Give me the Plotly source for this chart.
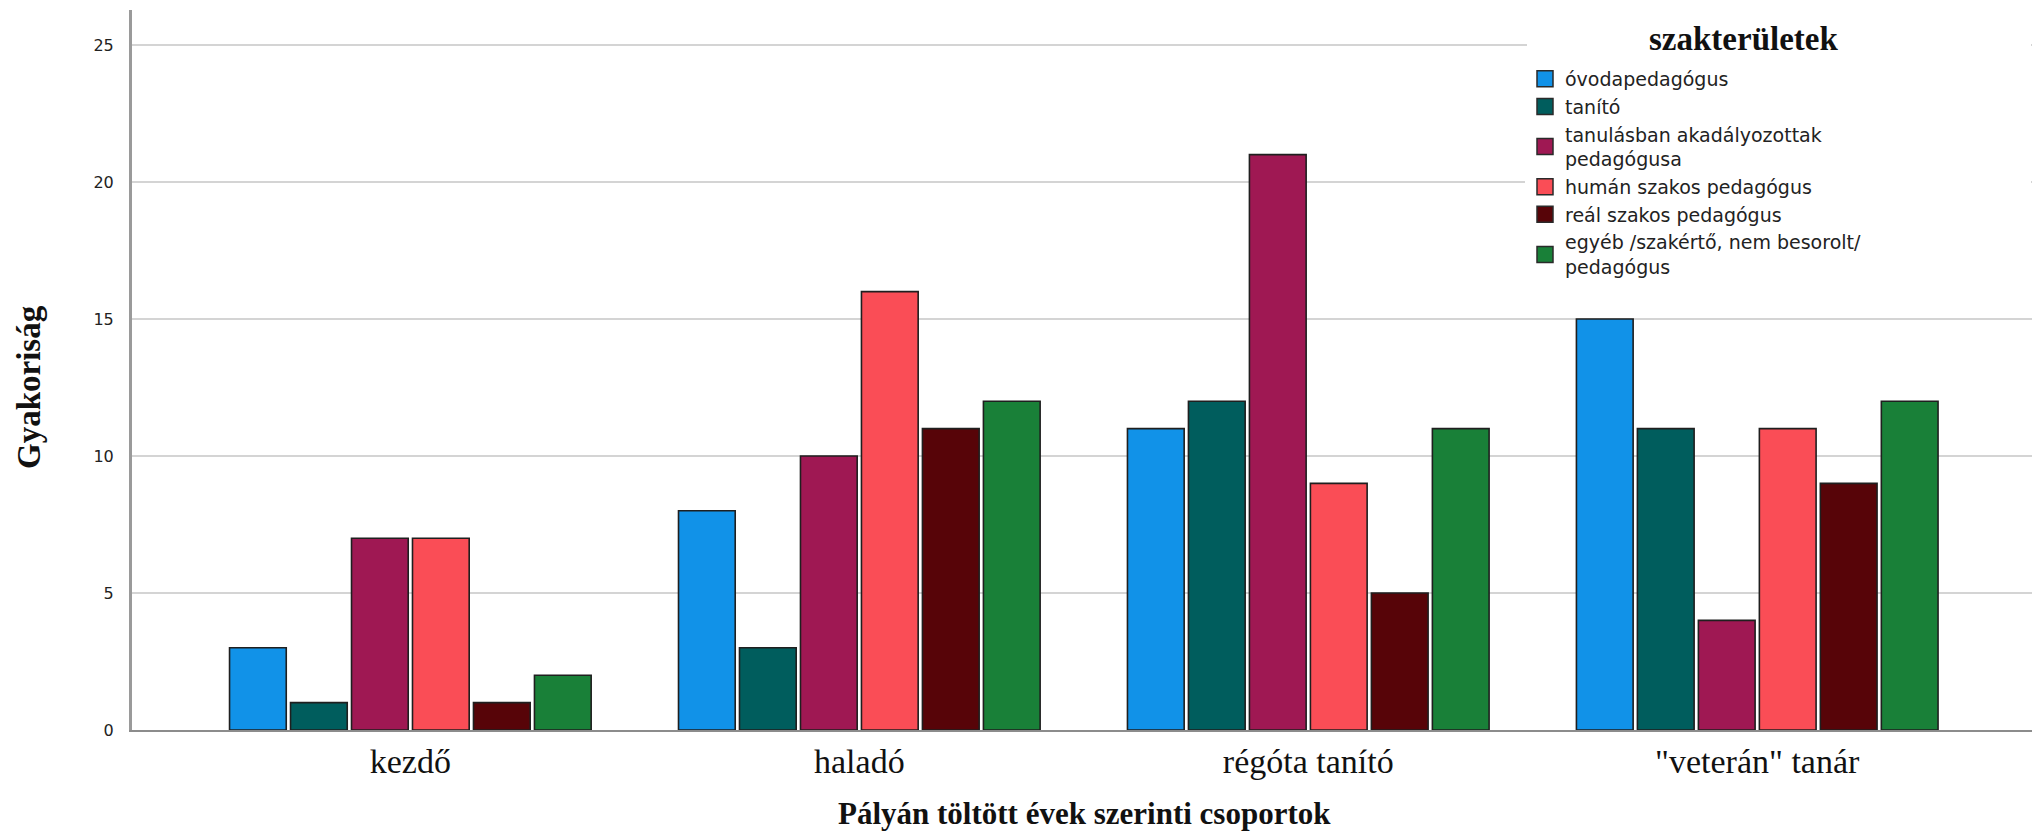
import plotly.graph_objects as go

categories = ["kezdő", "haladó", "régóta tanító", "\"veterán\" tanár"]
series_names = [
    "óvodapedagógus",
    "tanító",
    "tanulásban akadályozottak<br>pedagógusa",
    "humán szakos pedagógus",
    "reál szakos pedagógus",
    "egyéb /szakértő, nem besorolt/<br>pedagógus",
]
ovoda = [3, 8, 11, 15]
tanito = [1, 3, 12, 11]
tanulasban = [7, 10, 21, 4]
human = [7, 16, 9, 11]
real = [1, 11, 5, 9]
egyeb = [2, 12, 11, 12]
series_values = [ovoda, tanito, tanulasban, human, real, egyeb]
colors = ["#1192e8", "#005d5d", "#9f1853", "#fa4d56", "#570408", "#198038"]
y_ticks = [0, 5, 10, 15, 20, 25]

fig = go.Figure()
for i, (name, vals, col) in enumerate(zip(series_names, series_values, colors)):
    fig.add_trace(go.Bar(
        x=categories, y=vals, name=name, legendgroup=str(i), showlegend=False,
        marker=dict(color=col, line=dict(color="#1f1f1f", width=1.6)),
    ))
# legend entries with larger square swatches
for i, (name, col) in enumerate(zip(series_names, colors)):
    fig.add_trace(go.Scatter(
        x=[None], y=[None], mode="markers", name=name, legendgroup=str(i),
        marker=dict(symbol="square", size=16, color=col, line=dict(color="#2a2a2a", width=1.5)),
        hoverinfo="skip",
    ))

W, H = 2036, 832
L, R, T, B = 132, 4, 10, 102
PW, PH = W - L - R, H - T - B


def px_x(x):
    return (x - L) / PW


def px_y(y):
    return ((H - B) - y) / PH


fig.update_layout(
    width=W, height=H,
    margin=dict(l=L, r=R, t=T, b=B),
    paper_bgcolor="white", plot_bgcolor="white",
    barmode="group", bargap=0.185, bargroupgap=0.07,
    showlegend=True,
    legend=dict(
        x=px_x(1525), y=px_y(60), xanchor="left", yanchor="top",
        bgcolor="white", borderwidth=0,
        font=dict(family="DejaVu Sans, Liberation Sans, sans-serif", size=19, color="#222"),
        tracegroupgap=0, itemwidth=30,
    ),
    shapes=[
        dict(type="rect", xref="paper", yref="paper", layer="above",
             x0=px_x(1527), x1=px_x(2031), y0=px_y(12), y1=px_y(280),
             fillcolor="white", line=dict(width=0)),
    ],
    xaxis=dict(
        range=[-0.620, 3.612],
        showgrid=False, showline=True, linecolor="#8c8c8c", linewidth=2,
        ticks="", ticklabelstandoff=0,
        tickfont=dict(family="Liberation Serif, Times New Roman, serif", size=34, color="#111"),
        zeroline=False,
    ),
    yaxis=dict(
        range=[0, 26.28],
        tickvals=y_ticks, ticktext=[str(v) for v in y_ticks],
        showgrid=True, gridcolor="#d4d4d4", gridwidth=1.5,
        showline=True, linecolor="#9a9a9a", linewidth=3,
        ticks="", ticklabelstandoff=12,
        tickfont=dict(family="DejaVu Sans, Liberation Sans, sans-serif", size=16, color="#222"),
        zeroline=False,
    ),
    annotations=[
        dict(text="<b>szakterületek</b>",
             xref="paper", yref="paper", x=px_x(1743), y=px_y(39),
             xanchor="center", yanchor="middle", showarrow=False,
             font=dict(family="Liberation Serif, Times New Roman, serif", size=33, color="#111")),
        dict(text="<b>Pályán töltött évek szerinti csoportok</b>",
             xref="paper", yref="paper", x=px_x(1084), y=px_y(813),
             xanchor="center", yanchor="middle", showarrow=False,
             font=dict(family="Liberation Serif, Times New Roman, serif", size=31, color="#111")),
        dict(text="<b>Gyakoriság</b>", textangle=-90,
             xref="paper", yref="paper", x=px_x(29), y=px_y(387),
             xanchor="center", yanchor="middle", showarrow=False,
             font=dict(family="Liberation Serif, Times New Roman, serif", size=33, color="#111")),
    ],
)

fig.write_html("out.html", config={"displayModeBar": False},
               post_script="document.body.style.margin='0';")
